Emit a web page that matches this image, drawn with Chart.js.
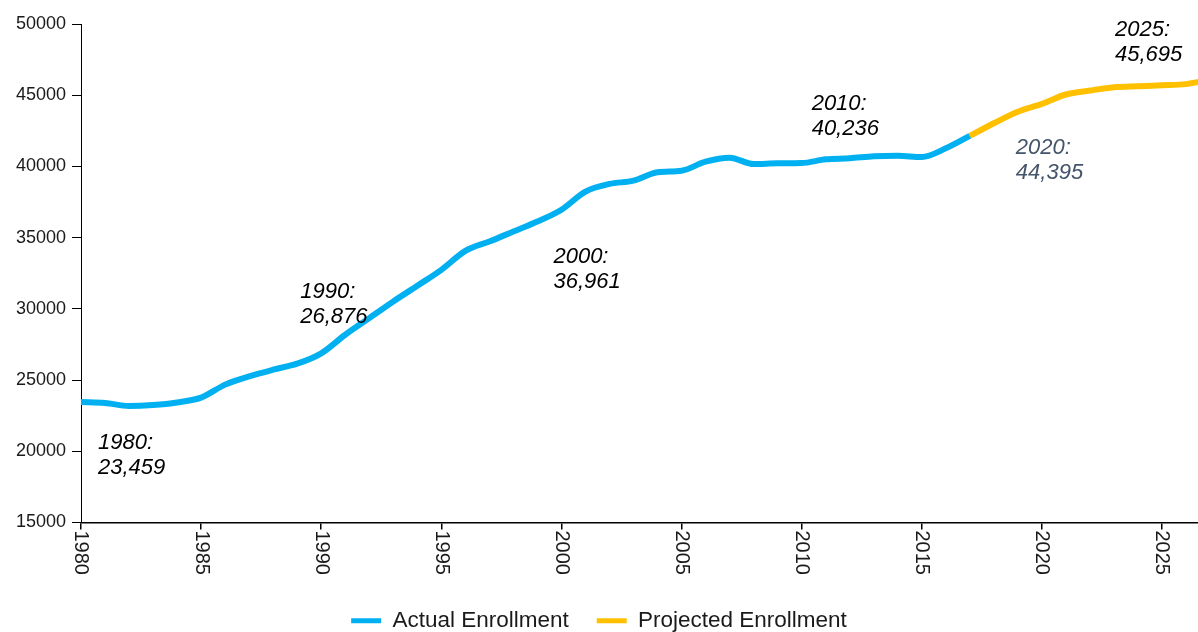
<!DOCTYPE html>
<html>
<head>
<meta charset="utf-8">
<script src="https://cdn.jsdelivr.net/npm/chart.js@4"></script>
<style>
  html, body { margin: 0; padding: 0; background: #fff; overflow: hidden; }
  #wrap { width: 1198px; height: 642px; position: relative; }
</style>
</head>
<body>
<div id="wrap"><canvas id="enrollChart"></canvas></div>
<script>
// Enrollment by year, actual through 2017, projected after
var years = [1980, 1981, 1982, 1983, 1984, 1985, 1986, 1987, 1988, 1989,
             1990, 1991, 1992, 1993, 1994, 1995, 1996, 1997, 1998, 1999,
             2000, 2001, 2002, 2003, 2004, 2005, 2006, 2007, 2008, 2009,
             2010, 2011, 2012, 2013, 2014, 2015, 2016, 2017, 2018, 2019,
             2020, 2021, 2022, 2023, 2024, 2025, 2026, 2027];

var actualEnrollment = [23459, 23390, 23180, 23250, 23430, 23770, 24680, 25260, 25730, 26150,
                        26876, 28180, 29350, 30520, 31620, 32740, 34070, 34730, 35430, 36130,
                        36961, 38230, 38770, 39000, 39590, 39700, 40330, 40610, 40170, 40220,
                        40236, 40500, 40570, 40710, 40750, 40660, 41270, 42140, null, null,
                        null, null, null, null, null, null, null, null];

var projectedEnrollment = [null, null, null, null, null, null, null, null, null, null,
                           null, null, null, null, null, null, null, null, null, null,
                           null, null, null, null, null, null, null, null, null, null,
                           null, null, null, null, null, null, null, 42140, 43030, 43840,
                           44395, 45050, 45330, 45560, 45630, 45695, 45780, 46100];

var xTickYears = [1980, 1985, 1990, 1995, 2000, 2005, 2010, 2015, 2020, 2025];
var yTicks = [15000, 20000, 25000, 30000, 35000, 40000, 45000, 50000];

// callout labels: year, offset from the point, colour
var callouts = [
  { year: 1980, dx: 17,  dy: 41,  color: '#000' },
  { year: 1990, dx: -21, dy: -61, color: '#000' },
  { year: 2000, dx: -8,  dy: 47,  color: '#000' },
  { year: 2010, dx: 10,  dy: -59, color: '#000' },
  { year: 2020, dx: -26, dy: 44,  color: '#44546A' },
  { year: 2025, dx: -47, dy: -55, color: '#000' }
];

function toPoints(values) {
  return years.map(function (y, i) { return { x: y, y: values[i] }; })
              .filter(function (p) { return p.y !== null; });
}

function valueFor(year) {
  var i = years.indexOf(year);
  return actualEnrollment[i] !== null ? actualEnrollment[i] : projectedEnrollment[i];
}

// vertical year labels, reading top to bottom
var yearLabels = {
  id: 'yearLabels',
  afterDraw: function (chart) {
    var ctx = chart.ctx, xs = chart.scales.x, bottom = chart.chartArea.bottom;
    ctx.save();
    ctx.font = '20px "Liberation Sans", Arial, sans-serif';
    ctx.fillStyle = '#1a1a1a';
    ctx.textAlign = 'left';
    ctx.textBaseline = 'middle';
    xTickYears.forEach(function (yr) {
      var x = xs.getPixelForValue(yr);
      ctx.save();
      ctx.translate(x, bottom + 8);
      ctx.rotate(Math.PI / 2);
      ctx.fillText(String(yr), 0, 0);
      ctx.restore();
    });
    ctx.restore();
  }
};

var calloutLabels = {
  id: 'calloutLabels',
  afterDatasetsDraw: function (chart) {
    var ctx = chart.ctx, xs = chart.scales.x, ys = chart.scales.y;
    ctx.save();
    ctx.font = 'italic 22px "Liberation Sans", Arial, sans-serif';
    ctx.textAlign = 'left';
    ctx.textBaseline = 'middle';
    callouts.forEach(function (c) {
      var v = valueFor(c.year);
      var x = xs.getPixelForValue(c.year) + c.dx;
      var y = ys.getPixelForValue(v) + c.dy;
      ctx.fillStyle = c.color;
      ctx.fillText(c.year + ':', x, y);
      ctx.fillText(v.toLocaleString('en-US'), x, y + 25);
    });
    ctx.restore();
  }
};

new Chart(document.getElementById('enrollChart'), {
  type: 'line',
  data: {
    datasets: [
      {
        label: 'Actual Enrollment',
        data: toPoints(actualEnrollment),
        borderColor: '#00B0F0',
        backgroundColor: '#00B0F0',
        borderWidth: 6,
        pointRadius: 0,
        cubicInterpolationMode: 'monotone',
        fill: false
      },
      {
        label: 'Projected Enrollment',
        data: toPoints(projectedEnrollment),
        borderColor: '#FFC000',
        backgroundColor: '#FFC000',
        borderWidth: 6,
        pointRadius: 0,
        cubicInterpolationMode: 'monotone',
        fill: false
      }
    ]
  },
  options: {
    responsive: true,
    maintainAspectRatio: false,
    animation: false,
    layout: { padding: { top: 24, right: 0, left: 0, bottom: 0 } },
    plugins: {
      tooltip: { enabled: false },
      legend: {
        position: 'bottom',
        labels: {
          boxWidth: 30,
          boxHeight: 5,
          padding: 28,
          color: '#1a1a1a',
          font: { size: 22.5, family: '"Liberation Sans", Arial, sans-serif' },
          generateLabels: function (chart) {
            var items = Chart.defaults.plugins.legend.labels.generateLabels(chart);
            items.forEach(function (it) { it.lineWidth = 0; });
            return items;
          }
        }
      }
    },
    scales: {
      x: {
        type: 'linear',
        min: 1980,
        max: 2026.5,
        afterBuildTicks: function (scale) {
          scale.ticks = xTickYears.map(function (v) { return { value: v }; });
        },
        afterFit: function (scale) { scale.height = 59; },
        ticks: { display: false },
        grid: { drawOnChartArea: false, drawTicks: true, tickLength: 7, color: '#000', lineWidth: 1.5 },
        border: { color: '#000', width: 1.5 }
      },
      y: {
        min: 15000,
        max: 50000,
        afterBuildTicks: function (scale) {
          scale.ticks = yTicks.map(function (v) { return { value: v }; });
        },
        afterFit: function (scale) { scale.width = 81; },
        ticks: {
          padding: 6,
          color: '#1a1a1a',
          font: { size: 18, family: '"Liberation Sans", Arial, sans-serif' },
          callback: function (v) { return String(v); }
        },
        grid: { drawOnChartArea: false, drawTicks: true, tickLength: 9, color: '#000' },
        border: { color: '#000', width: 1 }
      }
    }
  },
  plugins: [yearLabels, calloutLabels]
});
</script>
</body>
</html>
